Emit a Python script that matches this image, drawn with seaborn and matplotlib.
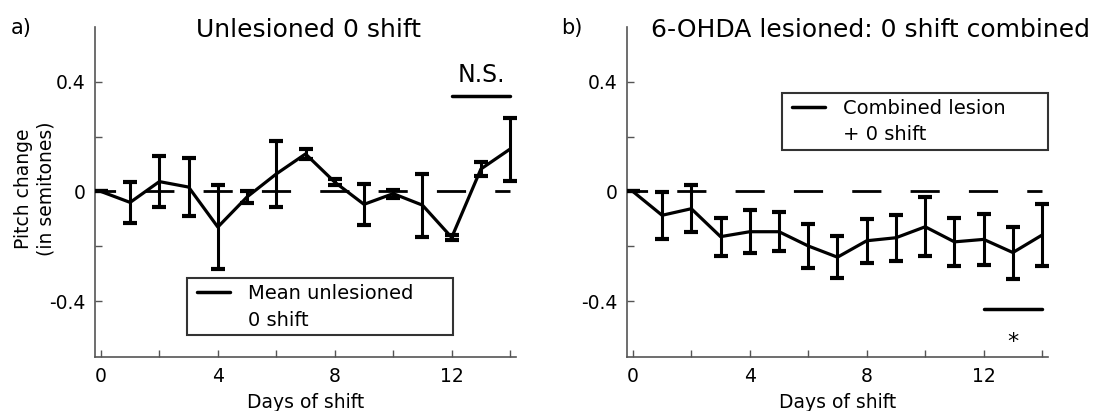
import matplotlib
matplotlib.use("Agg")
import matplotlib.pyplot as plt
import seaborn as sns
import numpy as np
import pandas as pd

# data (mean pitch change +/- error, in semitones)
days = np.arange(0, 15)
unlesioned_mean = [0.0, -0.04, 0.036, 0.016, -0.13, -0.02, 0.064, 0.137, 0.034,
                   -0.047, -0.008, -0.05, -0.168, 0.082, 0.155]
unlesioned_err = [0.0, 0.075, 0.092, 0.105, 0.153, 0.022, 0.12, 0.018, 0.01,
                  0.075, 0.015, 0.115, 0.008, 0.026, 0.115]
lesioned_mean = [0.0, -0.087, -0.063, -0.165, -0.147, -0.147, -0.199, -0.24, -0.18,
                 -0.169, -0.129, -0.184, -0.175, -0.223, -0.159]
lesioned_err = [0.0, 0.085, 0.085, 0.069, 0.078, 0.072, 0.082, 0.077, 0.08,
                0.084, 0.107, 0.087, 0.092, 0.095, 0.113]

sig_days = [12, 14]
ns_bar_y = 0.35
star_bar_y = -0.43

ytick_vals = [-0.4, -0.2, 0, 0.2, 0.4]
ytick_labels = ['-0.4', '', '0', '', '0.4']
xtick_vals = list(range(0, 15, 2))
xtick_labels = ['0', '', '4', '', '8', '', '12', '']

sns.set_style("ticks")
plt.rcParams['font.family'] = ['DejaVu Sans']
plt.rcParams['text.color'] = 'black'
plt.rcParams['axes.labelcolor'] = 'black'

fig = plt.figure(figsize=(11, 4.11), dpi=100)
ax1 = fig.add_axes([0.0864, 0.131, 0.3827, 0.803])
ax2 = fig.add_axes([0.570, 0.131, 0.3827, 0.803])


def draw_panel(ax, mean, err, label):
    df = pd.DataFrame({'day': days, 'mean': mean, 'err': err})
    # zero reference line
    ax.hlines(0, df['day'].iloc[0], df['day'].iloc[-1], color='black', lw=2,
              linestyles=[(5.25, (10.5, 10.5))], zorder=1)
    sns.lineplot(data=df, x='day', y='mean', ax=ax, color='black', lw=2.3,
                 label=label, zorder=3)
    ax.errorbar(df['day'], df['mean'], yerr=df['err'], fmt='none', ecolor='black',
                elinewidth=2.2, capsize=5, capthick=3, zorder=3)
    ax.set_xlim(-0.2, 14.2)
    ax.set_ylim(-0.605, 0.6)
    ax.set_xticks(xtick_vals)
    ax.set_xticklabels(xtick_labels)
    ax.set_yticks(ytick_vals)
    ax.set_yticklabels(ytick_labels)
    ax.tick_params(direction='in', length=5, width=1, colors='#555555',
                   labelcolor='black', labelsize=13.5, pad=7)
    sns.despine(ax=ax)
    for s in ['left', 'bottom']:
        ax.spines[s].set_color('#555555')
        ax.spines[s].set_linewidth(1.2)
    ax.set_xlabel('Days of shift', fontsize=13.5, labelpad=5)
    ax.set_ylabel('')


draw_panel(ax1, unlesioned_mean, unlesioned_err, 'Mean unlesioned\n0 shift')
draw_panel(ax2, lesioned_mean, lesioned_err, 'Combined lesion\n+ 0 shift')

ax1.set_ylabel('Pitch change\n(in semitones)', fontsize=13.5)
ax1.yaxis.set_label_coords(-0.095, 0.51)

# significance markers
ax1.plot(sig_days, [ns_bar_y, ns_bar_y], color='black', lw=2.5)
ax1.text(np.mean(sig_days), 0.40, 'N.S.', ha='center', va='baseline', fontsize=17)
ax2.plot(sig_days, [star_bar_y, star_bar_y], color='black', lw=2.5)
ax2.text(np.mean(sig_days), -0.57, '*', ha='center', va='baseline', fontsize=16)

# legends (box stretched to the reference width, handle next to first line)
for ax, anchor in [(ax1, (0.2185, 0.239, 0.632, 0)), (ax2, (0.368, 0.80, 0.632, 0))]:
    leg = ax.legend(loc='upper left', bbox_to_anchor=anchor, mode='expand',
                    borderaxespad=0, fontsize=14, frameon=True, fancybox=False,
                    edgecolor='black', handlelength=1.7, handletextpad=1.13,
                    borderpad=0.3)
    leg.get_frame().set_linewidth(1.5)
    for t in leg.get_texts():
        t.set_linespacing(1.5)
    for h in leg.get_lines():
        h.set_ydata(np.asarray(h.get_ydata()) + 11)
        h.set_xdata(np.asarray(h.get_xdata()) + 3)
        h.set_linewidth(2.5)

# titles and panel letters
fig.text(0.28, 0.91, 'Unlesioned 0 shift', ha='center', va='baseline', fontsize=18)
fig.text(0.7914, 0.91, '6-OHDA lesioned: 0 shift combined', ha='center',
         va='baseline', fontsize=18)
fig.text(0.01, 0.918, 'a)', ha='left', va='baseline', fontsize=15)
fig.text(0.51, 0.918, 'b)', ha='left', va='baseline', fontsize=15)

fig.savefig('out.png', dpi=100)
